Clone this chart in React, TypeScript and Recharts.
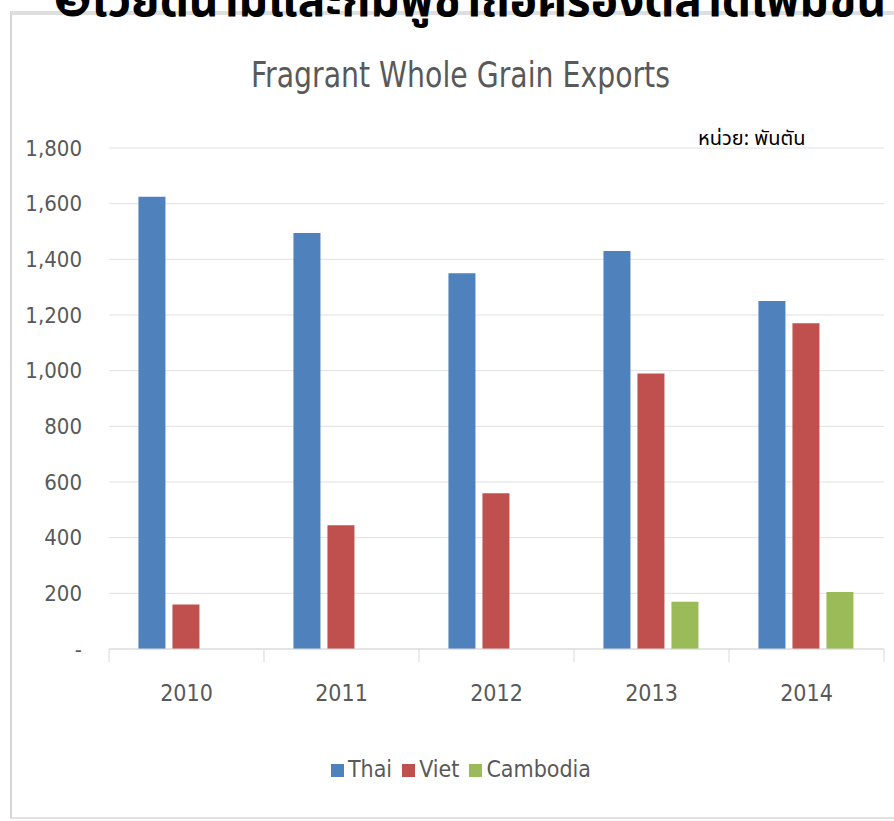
import React from "react";
import { BarChart, Bar, XAxis, YAxis, CartesianGrid, Legend } from "recharts";

const years = ["2010", "2011", "2012", "2013", "2014"];
const thai = [1625, 1495, 1350, 1430, 1250];
const viet = [160, 445, 560, 990, 1170];
const cambodia: (number | null)[] = [null, null, null, 170, 205];
const yTicks = [0, 200, 400, 600, 800, 1000, 1200, 1400, 1600, 1800];
const seriesOrder = ["Thai", "Viet", "Cambodia"];

const heading = "❸เวียดนามและกัมพูชาถือครองตลาดเพิ่มขึ้น";
const chartTitle = "Fragrant Whole Grain Exports";
const unitNote = "หน่วย: พันตัน";

const W = 894;
const H = 821;
const PLOT_LEFT = 109;
const PLOT_RIGHT = 884;
const BAND = (PLOT_RIGHT - PLOT_LEFT) / years.length;

const NARROW = "'Liberation Sans Narrow', 'DejaVu Sans Condensed', 'Arial Narrow', sans-serif";
const GREY = "#595959";

const data = years.map((y, i) => ({
  year: y,
  Thai: thai[i],
  Viet: viet[i],
  Cambodia: cambodia[i],
}));

function YearTick(props: any) {
  const { x, y, payload, index } = props;
  return (
    <g>
      <line x1={x - BAND / 2} y1={y} x2={x - BAND / 2} y2={y + 13} stroke="#d9d9d9" />
      {index === years.length - 1 && (
        <line x1={x + BAND / 2} y1={y} x2={x + BAND / 2} y2={y + 13} stroke="#d9d9d9" />
      )}
      <text x={x} y={y + 52} textAnchor="middle" fontSize={23} fill={GREY} fontFamily={NARROW}>
        {payload.value}
      </text>
    </g>
  );
}

export default function App() {
  return (
    <div style={{ position: "absolute", left: 0, top: 0, width: W, height: H, overflow: "hidden", background: "#fff" }}>
      {/* frame of the pasted chart */}
      <div
        style={{
          position: "absolute", left: 10, top: 11, width: 900, height: 802,
          borderTop: "4px solid #dedede", borderLeft: "2px solid #d6d6d6", borderBottom: "2px solid #e2e2e2",
        }}
      />
      <div style={{ position: "absolute", left: 0, top: 0 }}>
        <BarChart
          width={W}
          height={H}
          data={data}
          margin={{ top: 148, right: W - PLOT_RIGHT, left: PLOT_LEFT - 100, bottom: 112 }}
          barCategoryGap="19%"
          barGap={7}
        >
          <CartesianGrid vertical={false} stroke="#e0e0e0" />
          <XAxis
            dataKey="year"
            height={60}
            axisLine={{ stroke: "#d9d9d9" }}
            tickLine={false}
            tickSize={0}
            tickMargin={0}
            interval={0}
            tick={<YearTick />}
          />
          <YAxis
            width={100}
            domain={[0, 1800]}
            ticks={yTicks}
            axisLine={false}
            tickLine={false}
            tickSize={0}
            tickMargin={27}
            tick={{ fontSize: 22, fill: GREY, fontFamily: NARROW }}
            tickFormatter={(v: number) => (v === 0 ? "-" : v.toLocaleString("en-US"))}
          />
          <Legend
            verticalAlign="middle"
            iconType="square"
            iconSize={13}
            itemSorter={(item: any) => seriesOrder.indexOf(item.value)}
            wrapperStyle={{ top: 756, left: 38, width: 856, fontFamily: NARROW, fontSize: 23 }}
            formatter={(value: string) => <span style={{ color: GREY }}>{value}</span>}
          />
          <Bar dataKey="Thai" fill="#4F81BD" isAnimationActive={false} />
          <Bar dataKey="Viet" fill="#C0504D" isAnimationActive={false} />
          <Bar dataKey="Cambodia" fill="#9BBB59" isAnimationActive={false} />
        </BarChart>
      </div>
      <svg width={W} height={H} style={{ position: "absolute", left: 0, top: 0, pointerEvents: "none" }}>
        <text x={53} y={16} fontSize={46} fontWeight="bold" fill="#000" fontFamily="Tahoma, 'Noto Sans Thai', 'DejaVu Sans', sans-serif">
          {heading}
        </text>
        <text
          x={251} y={87} fontSize={35} fill={GREY} fontFamily={NARROW}
          textLength={419} lengthAdjust="spacingAndGlyphs"
        >
          {chartTitle}
        </text>
        <text x={698} y={145} fontSize={20} fill="#000" fontFamily="Tahoma, 'Noto Sans Thai', 'DejaVu Serif', serif">
          {unitNote}
        </text>
      </svg>
    </div>
  );
}
